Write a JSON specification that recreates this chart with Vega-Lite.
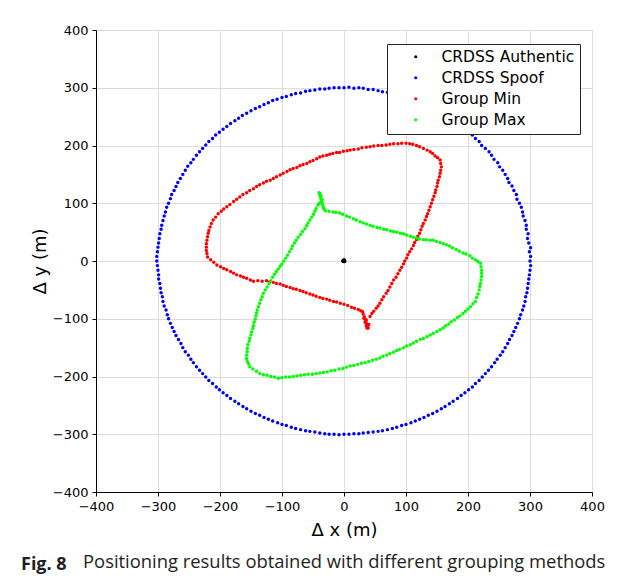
{
"$schema": "https://vega.github.io/schema/vega-lite/v6.json",
"autosize": {"type": "pad"},
"padding": {"left": 21, "top": 24, "right": 0, "bottom": 0},
"background": "white",
"title": {
 "text": "Fig. 8", "orient": "bottom", "anchor": "start", "frame": "group", "dx": -75, "offset": -15,
 "font": "Open Sans", "fontSize": 18, "fontWeight": "bold", "color": "#231f20"
},
"resolve": {"legend": {"color": "independent"}, "scale": {"color": "independent"}},
"vconcat": [{
"width": 496, "height": 462,
"title": {
 "text": "Positioning results obtained with different grouping methods",
 "orient": "bottom", "anchor": "start", "frame": "group", "dx": -13, "offset": 14,
 "font": "Open Sans", "fontSize": 18.4, "fontWeight": "normal", "color": "#231f20"
},
"data": {"values": [
{"g":"A","x":0,"y":0},{"g":"A","x":-1,"y":1},{"g":"A","x":1,"y":-1},{"g":"A","x":-1,"y":-1},{"g":"A","x":1,"y":1},{"g":"A","x":0,"y":2},{"g":"A","x":-2,"y":0},
{"g":"S","x":300,"y":0},{"g":"S","x":301,"y":8},{"g":"S","x":299,"y":16},{"g":"S","x":301,"y":23},{"g":"S","x":298,"y":31},{"g":"S","x":296,"y":39},{"g":"S","x":297,"y":47},{"g":"S","x":294,"y":55},{"g":"S","x":294,"y":62},{"g":"S","x":292,"y":70},{"g":"S","x":289,"y":78},{"g":"S","x":288,"y":85},{"g":"S","x":286,"y":93},{"g":"S","x":283,"y":100},{"g":"S","x":279,"y":107},{"g":"S","x":278,"y":115},{"g":"S","x":274,"y":122},{"g":"S","x":271,"y":130},{"g":"S","x":266,"y":136},{"g":"S","x":264,"y":143},{"g":"S","x":260,"y":150},{"g":"S","x":256,"y":157},{"g":"S","x":251,"y":163},{"g":"S","x":248,"y":170},{"g":"S","x":242,"y":176},{"g":"S","x":238,"y":183},{"g":"S","x":234,"y":189},{"g":"S","x":228,"y":195},{"g":"S","x":222,"y":200},{"g":"S","x":218,"y":207},{"g":"S","x":212,"y":212},{"g":"S","x":207,"y":218},{"g":"S","x":200,"y":222},{"g":"S","x":195,"y":229},{"g":"S","x":189,"y":233},{"g":"S","x":182,"y":238},{"g":"S","x":176,"y":243},{"g":"S","x":170,"y":248},{"g":"S","x":163,"y":251},{"g":"S","x":157,"y":256},{"g":"S","x":150,"y":260},{"g":"S","x":143,"y":264},{"g":"S","x":136,"y":267},{"g":"S","x":129,"y":271},{"g":"S","x":122,"y":275},{"g":"S","x":115,"y":277},{"g":"S","x":107,"y":280},{"g":"S","x":100,"y":283},{"g":"S","x":93,"y":286},{"g":"S","x":85,"y":288},{"g":"S","x":78,"y":290},{"g":"S","x":70,"y":292},{"g":"S","x":62,"y":293},{"g":"S","x":55,"y":295},{"g":"S","x":47,"y":297},{"g":"S","x":39,"y":297},{"g":"S","x":31,"y":299},{"g":"S","x":24,"y":300},{"g":"S","x":16,"y":299},{"g":"S","x":8,"y":301},
{"g":"S","x":0,"y":300},{"g":"S","x":-8,"y":300},{"g":"S","x":-16,"y":300},{"g":"S","x":-24,"y":299},{"g":"S","x":-31,"y":298},{"g":"S","x":-39,"y":298},{"g":"S","x":-47,"y":296},{"g":"S","x":-55,"y":295},{"g":"S","x":-62,"y":294},{"g":"S","x":-70,"y":291},{"g":"S","x":-78,"y":290},{"g":"S","x":-85,"y":288},{"g":"S","x":-93,"y":285},{"g":"S","x":-100,"y":283},{"g":"S","x":-108,"y":280},{"g":"S","x":-115,"y":278},{"g":"S","x":-122,"y":274},{"g":"S","x":-129,"y":271},{"g":"S","x":-136,"y":267},{"g":"S","x":-143,"y":264},{"g":"S","x":-150,"y":260},{"g":"S","x":-157,"y":256},{"g":"S","x":-164,"y":252},{"g":"S","x":-170,"y":247},{"g":"S","x":-176,"y":243},{"g":"S","x":-183,"y":238},{"g":"S","x":-189,"y":233},{"g":"S","x":-195,"y":228},{"g":"S","x":-201,"y":223},{"g":"S","x":-207,"y":218},{"g":"S","x":-212,"y":212},{"g":"S","x":-218,"y":207},{"g":"S","x":-223,"y":201},{"g":"S","x":-228,"y":195},{"g":"S","x":-233,"y":189},{"g":"S","x":-238,"y":183},{"g":"S","x":-243,"y":176},{"g":"S","x":-247,"y":170},{"g":"S","x":-252,"y":164},{"g":"S","x":-256,"y":157},{"g":"S","x":-260,"y":150},{"g":"S","x":-264,"y":143},{"g":"S","x":-268,"y":136},{"g":"S","x":-271,"y":129},{"g":"S","x":-274,"y":122},{"g":"S","x":-278,"y":115},{"g":"S","x":-280,"y":108},{"g":"S","x":-283,"y":100},{"g":"S","x":-286,"y":93},{"g":"S","x":-288,"y":85},{"g":"S","x":-290,"y":78},{"g":"S","x":-292,"y":70},{"g":"S","x":-294,"y":62},{"g":"S","x":-295,"y":55},{"g":"S","x":-297,"y":47},{"g":"S","x":-298,"y":39},{"g":"S","x":-299,"y":31},{"g":"S","x":-300,"y":24},{"g":"S","x":-301,"y":16},{"g":"S","x":-302,"y":8},
{"g":"S","x":-302,"y":0},{"g":"S","x":-301,"y":-8},{"g":"S","x":-300,"y":-16},{"g":"S","x":-299,"y":-24},{"g":"S","x":-299,"y":-31},{"g":"S","x":-297,"y":-39},{"g":"S","x":-296,"y":-47},{"g":"S","x":-295,"y":-55},{"g":"S","x":-293,"y":-62},{"g":"S","x":-292,"y":-70},{"g":"S","x":-290,"y":-78},{"g":"S","x":-287,"y":-85},{"g":"S","x":-285,"y":-93},{"g":"S","x":-283,"y":-100},{"g":"S","x":-280,"y":-108},{"g":"S","x":-277,"y":-115},{"g":"S","x":-274,"y":-122},{"g":"S","x":-271,"y":-129},{"g":"S","x":-267,"y":-136},{"g":"S","x":-263,"y":-143},{"g":"S","x":-260,"y":-150},{"g":"S","x":-256,"y":-157},{"g":"S","x":-251,"y":-163},{"g":"S","x":-247,"y":-170},{"g":"S","x":-243,"y":-176},{"g":"S","x":-238,"y":-183},{"g":"S","x":-233,"y":-189},{"g":"S","x":-228,"y":-195},{"g":"S","x":-223,"y":-201},{"g":"S","x":-218,"y":-207},{"g":"S","x":-212,"y":-212},{"g":"S","x":-206,"y":-218},{"g":"S","x":-201,"y":-223},{"g":"S","x":-195,"y":-228},{"g":"S","x":-189,"y":-233},{"g":"S","x":-183,"y":-238},{"g":"S","x":-176,"y":-243},{"g":"S","x":-170,"y":-247},{"g":"S","x":-163,"y":-252},{"g":"S","x":-157,"y":-256},{"g":"S","x":-150,"y":-260},{"g":"S","x":-143,"y":-264},{"g":"S","x":-136,"y":-267},{"g":"S","x":-129,"y":-271},{"g":"S","x":-122,"y":-274},{"g":"S","x":-115,"y":-277},{"g":"S","x":-107,"y":-280},{"g":"S","x":-100,"y":-283},{"g":"S","x":-93,"y":-285},{"g":"S","x":-85,"y":-288},{"g":"S","x":-78,"y":-290},{"g":"S","x":-70,"y":-292},{"g":"S","x":-62,"y":-294},{"g":"S","x":-55,"y":-295},{"g":"S","x":-47,"y":-296},{"g":"S","x":-39,"y":-298},{"g":"S","x":-31,"y":-299},{"g":"S","x":-24,"y":-300},{"g":"S","x":-16,"y":-300},{"g":"S","x":-8,"y":-301},
{"g":"S","x":0,"y":-300},{"g":"S","x":8,"y":-300},{"g":"S","x":16,"y":-299},{"g":"S","x":24,"y":-299},{"g":"S","x":31,"y":-298},{"g":"S","x":39,"y":-297},{"g":"S","x":47,"y":-296},{"g":"S","x":55,"y":-295},{"g":"S","x":62,"y":-294},{"g":"S","x":70,"y":-292},{"g":"S","x":78,"y":-290},{"g":"S","x":85,"y":-288},{"g":"S","x":93,"y":-285},{"g":"S","x":100,"y":-283},{"g":"S","x":108,"y":-280},{"g":"S","x":115,"y":-277},{"g":"S","x":122,"y":-274},{"g":"S","x":129,"y":-271},{"g":"S","x":136,"y":-267},{"g":"S","x":143,"y":-264},{"g":"S","x":150,"y":-260},{"g":"S","x":157,"y":-256},{"g":"S","x":163,"y":-252},{"g":"S","x":170,"y":-247},{"g":"S","x":176,"y":-243},{"g":"S","x":183,"y":-238},{"g":"S","x":189,"y":-233},{"g":"S","x":195,"y":-228},{"g":"S","x":201,"y":-223},{"g":"S","x":207,"y":-218},{"g":"S","x":212,"y":-212},{"g":"S","x":218,"y":-207},{"g":"S","x":223,"y":-201},{"g":"S","x":228,"y":-195},{"g":"S","x":233,"y":-189},{"g":"S","x":238,"y":-183},{"g":"S","x":243,"y":-176},{"g":"S","x":247,"y":-170},{"g":"S","x":252,"y":-163},{"g":"S","x":256,"y":-157},{"g":"S","x":260,"y":-150},{"g":"S","x":264,"y":-143},{"g":"S","x":267,"y":-136},{"g":"S","x":271,"y":-129},{"g":"S","x":274,"y":-122},{"g":"S","x":277,"y":-115},{"g":"S","x":280,"y":-108},{"g":"S","x":283,"y":-100},{"g":"S","x":285,"y":-93},{"g":"S","x":288,"y":-85},{"g":"S","x":290,"y":-78},{"g":"S","x":292,"y":-70},{"g":"S","x":293,"y":-62},{"g":"S","x":295,"y":-55},{"g":"S","x":296,"y":-47},{"g":"S","x":297,"y":-39},{"g":"S","x":298,"y":-31},{"g":"S","x":299,"y":-24},{"g":"S","x":300,"y":-16},{"g":"S","x":301,"y":-8},
{"g":"N","x":157,"y":163},{"g":"N","x":156,"y":169},{"g":"N","x":155,"y":175},{"g":"N","x":151,"y":179},{"g":"N","x":147,"y":182},{"g":"N","x":143,"y":186},{"g":"N","x":139,"y":189},{"g":"N","x":134,"y":192},{"g":"N","x":128,"y":195},{"g":"N","x":122,"y":198},{"g":"N","x":117,"y":200},{"g":"N","x":111,"y":202},{"g":"N","x":106,"y":203},{"g":"N","x":100,"y":204},{"g":"N","x":93,"y":204},{"g":"N","x":87,"y":203},{"g":"N","x":80,"y":203},{"g":"N","x":74,"y":202},{"g":"N","x":68,"y":201},{"g":"N","x":61,"y":200},{"g":"N","x":55,"y":200},{"g":"N","x":48,"y":199},{"g":"N","x":42,"y":198},{"g":"N","x":36,"y":197},{"g":"N","x":29,"y":196},{"g":"N","x":23,"y":194},{"g":"N","x":16,"y":193},{"g":"N","x":10,"y":192},{"g":"N","x":5,"y":191},{"g":"N","x":-1,"y":190},{"g":"N","x":-7,"y":188},{"g":"N","x":-12,"y":188},{"g":"N","x":-18,"y":186},{"g":"N","x":-23,"y":185},{"g":"N","x":-28,"y":183},{"g":"N","x":-34,"y":182},{"g":"N","x":-39,"y":180},{"g":"N","x":-44,"y":177},{"g":"N","x":-50,"y":174},{"g":"N","x":-55,"y":172},{"g":"N","x":-60,"y":169},{"g":"N","x":-66,"y":167},{"g":"N","x":-71,"y":165},{"g":"N","x":-76,"y":162},{"g":"N","x":-82,"y":160},{"g":"N","x":-87,"y":158},{"g":"N","x":-92,"y":155},{"g":"N","x":-98,"y":152},{"g":"N","x":-103,"y":149},{"g":"N","x":-109,"y":146},{"g":"N","x":-114,"y":143},{"g":"N","x":-119,"y":140},{"g":"N","x":-125,"y":138},{"g":"N","x":-130,"y":135},{"g":"N","x":-136,"y":132},{"g":"N","x":-141,"y":129},{"g":"N","x":-146,"y":125},{"g":"N","x":-152,"y":122},{"g":"N","x":-157,"y":118},{"g":"N","x":-163,"y":115},{"g":"N","x":-168,"y":111},{"g":"N","x":-173,"y":107},{"g":"N","x":-178,"y":103},{"g":"N","x":-184,"y":98},{"g":"N","x":-189,"y":94},{"g":"N","x":-194,"y":90},{"g":"N","x":-198,"y":86},{"g":"N","x":-203,"y":82},{"g":"N","x":-207,"y":76},{"g":"N","x":-211,"y":71},{"g":"N","x":-214,"y":65},{"g":"N","x":-216,"y":59},{"g":"N","x":-218,"y":53},{"g":"N","x":-219,"y":48},{"g":"N","x":-220,"y":42},{"g":"N","x":-221,"y":36},{"g":"N","x":-222,"y":30},{"g":"N","x":-222,"y":24},{"g":"N","x":-222,"y":18},{"g":"N","x":-221,"y":13},{"g":"N","x":-220,"y":7},{"g":"N","x":-215,"y":2},{"g":"N","x":-210,"y":-2},{"g":"N","x":-205,"y":-7},{"g":"N","x":-199,"y":-10},{"g":"N","x":-194,"y":-13},{"g":"N","x":-189,"y":-15},{"g":"N","x":-183,"y":-18},{"g":"N","x":-178,"y":-21},{"g":"N","x":-173,"y":-24},{"g":"N","x":-167,"y":-26},{"g":"N","x":-162,"y":-28},{"g":"N","x":-157,"y":-30},{"g":"N","x":-151,"y":-33},{"g":"N","x":-146,"y":-35},{"g":"N","x":-139,"y":-34},{"g":"N","x":-132,"y":-35},{"g":"N","x":-125,"y":-34},{"g":"N","x":-120,"y":-36},{"g":"N","x":-114,"y":-37},{"g":"N","x":-109,"y":-39},{"g":"N","x":-103,"y":-40},{"g":"N","x":-98,"y":-42},{"g":"N","x":-93,"y":-44},{"g":"N","x":-87,"y":-46},{"g":"N","x":-82,"y":-48},{"g":"N","x":-77,"y":-49},{"g":"N","x":-71,"y":-51},{"g":"N","x":-66,"y":-53},{"g":"N","x":-61,"y":-55},{"g":"N","x":-55,"y":-57},{"g":"N","x":-50,"y":-59},{"g":"N","x":-45,"y":-61},{"g":"N","x":-39,"y":-63},{"g":"N","x":-34,"y":-65},{"g":"N","x":-28,"y":-66},{"g":"N","x":-23,"y":-68},{"g":"N","x":-17,"y":-70},{"g":"N","x":-12,"y":-71},{"g":"N","x":-6,"y":-73},{"g":"N","x":0,"y":-75},{"g":"N","x":6,"y":-77},{"g":"N","x":12,"y":-80},{"g":"N","x":17,"y":-82},{"g":"N","x":23,"y":-84},{"g":"N","x":27,"y":-86},{"g":"N","x":30,"y":-88},{"g":"N","x":31,"y":-92},{"g":"N","x":33,"y":-97},{"g":"N","x":34,"y":-101},{"g":"N","x":35,"y":-105},{"g":"N","x":36,"y":-108},{"g":"N","x":37,"y":-111},{"g":"N","x":38,"y":-114},{"g":"N","x":39,"y":-116},{"g":"N","x":37,"y":-116},{"g":"N","x":36,"y":-112},{"g":"N","x":34,"y":-106},{"g":"N","x":32,"y":-99},{"g":"N","x":36,"y":-102},{"g":"N","x":40,"y":-110},{"g":"N","x":42,"y":-96},{"g":"N","x":45,"y":-91},{"g":"N","x":48,"y":-87},{"g":"N","x":52,"y":-82},{"g":"N","x":55,"y":-78},{"g":"N","x":58,"y":-73},{"g":"N","x":61,"y":-67},{"g":"N","x":64,"y":-62},{"g":"N","x":68,"y":-56},{"g":"N","x":71,"y":-51},{"g":"N","x":74,"y":-45},{"g":"N","x":77,"y":-39},{"g":"N","x":80,"y":-33},{"g":"N","x":84,"y":-28},{"g":"N","x":87,"y":-22},{"g":"N","x":90,"y":-16},{"g":"N","x":93,"y":-11},{"g":"N","x":96,"y":-5},{"g":"N","x":98,"y":0},{"g":"N","x":101,"y":5},{"g":"N","x":103,"y":11},{"g":"N","x":106,"y":16},{"g":"N","x":109,"y":21},{"g":"N","x":112,"y":27},{"g":"N","x":114,"y":32},{"g":"N","x":117,"y":37},{"g":"N","x":119,"y":43},{"g":"N","x":122,"y":48},{"g":"N","x":124,"y":54},{"g":"N","x":126,"y":60},{"g":"N","x":128,"y":65},{"g":"N","x":131,"y":71},{"g":"N","x":133,"y":77},{"g":"N","x":135,"y":82},{"g":"N","x":137,"y":88},{"g":"N","x":139,"y":94},{"g":"N","x":141,"y":100},{"g":"N","x":143,"y":106},{"g":"N","x":145,"y":112},{"g":"N","x":147,"y":118},{"g":"N","x":148,"y":123},{"g":"N","x":150,"y":129},{"g":"N","x":151,"y":135},{"g":"N","x":152,"y":140},{"g":"N","x":154,"y":146},{"g":"N","x":155,"y":152},{"g":"N","x":156,"y":157},
{"g":"X","x":-40,"y":118},{"g":"X","x":-39,"y":115},{"g":"X","x":-38,"y":111},{"g":"X","x":-37,"y":107},{"g":"X","x":-36,"y":103},{"g":"X","x":-35,"y":99},{"g":"X","x":-34,"y":95},{"g":"X","x":-33,"y":92},{"g":"X","x":-39,"y":117},{"g":"X","x":-37,"y":113},{"g":"X","x":-35,"y":106},{"g":"X","x":-32,"y":90},{"g":"X","x":-30,"y":87},{"g":"X","x":-24,"y":86},{"g":"X","x":-18,"y":85},{"g":"X","x":-13,"y":84},{"g":"X","x":-7,"y":83},{"g":"X","x":-2,"y":81},{"g":"X","x":4,"y":78},{"g":"X","x":9,"y":76},{"g":"X","x":15,"y":73},{"g":"X","x":20,"y":71},{"g":"X","x":26,"y":68},{"g":"X","x":31,"y":66},{"g":"X","x":36,"y":64},{"g":"X","x":42,"y":62},{"g":"X","x":47,"y":60},{"g":"X","x":53,"y":58},{"g":"X","x":58,"y":57},{"g":"X","x":64,"y":55},{"g":"X","x":69,"y":54},{"g":"X","x":75,"y":52},{"g":"X","x":80,"y":51},{"g":"X","x":85,"y":50},{"g":"X","x":91,"y":48},{"g":"X","x":96,"y":47},{"g":"X","x":101,"y":45},{"g":"X","x":107,"y":43},{"g":"X","x":112,"y":41},{"g":"X","x":117,"y":40},{"g":"X","x":122,"y":38},{"g":"X","x":128,"y":37},{"g":"X","x":133,"y":37},{"g":"X","x":139,"y":36},{"g":"X","x":144,"y":36},{"g":"X","x":149,"y":34},{"g":"X","x":155,"y":32},{"g":"X","x":160,"y":30},{"g":"X","x":165,"y":28},{"g":"X","x":170,"y":26},{"g":"X","x":175,"y":23},{"g":"X","x":181,"y":20},{"g":"X","x":186,"y":17},{"g":"X","x":192,"y":14},{"g":"X","x":197,"y":12},{"g":"X","x":203,"y":9},{"g":"X","x":207,"y":5},{"g":"X","x":212,"y":2},{"g":"X","x":216,"y":-1},{"g":"X","x":220,"y":-4},{"g":"X","x":221,"y":-10},{"g":"X","x":222,"y":-16},{"g":"X","x":222,"y":-21},{"g":"X","x":222,"y":-27},{"g":"X","x":221,"y":-33},{"g":"X","x":220,"y":-39},{"g":"X","x":219,"y":-44},{"g":"X","x":218,"y":-50},{"g":"X","x":216,"y":-57},{"g":"X","x":214,"y":-63},{"g":"X","x":212,"y":-70},{"g":"X","x":208,"y":-74},{"g":"X","x":204,"y":-79},{"g":"X","x":200,"y":-83},{"g":"X","x":196,"y":-87},{"g":"X","x":192,"y":-91},{"g":"X","x":187,"y":-95},{"g":"X","x":183,"y":-98},{"g":"X","x":178,"y":-102},{"g":"X","x":173,"y":-105},{"g":"X","x":169,"y":-109},{"g":"X","x":164,"y":-112},{"g":"X","x":160,"y":-116},{"g":"X","x":155,"y":-119},{"g":"X","x":150,"y":-122},{"g":"X","x":144,"y":-125},{"g":"X","x":139,"y":-128},{"g":"X","x":134,"y":-131},{"g":"X","x":128,"y":-134},{"g":"X","x":123,"y":-136},{"g":"X","x":117,"y":-139},{"g":"X","x":112,"y":-142},{"g":"X","x":107,"y":-145},{"g":"X","x":101,"y":-147},{"g":"X","x":96,"y":-150},{"g":"X","x":90,"y":-153},{"g":"X","x":85,"y":-155},{"g":"X","x":80,"y":-158},{"g":"X","x":74,"y":-160},{"g":"X","x":69,"y":-163},{"g":"X","x":63,"y":-165},{"g":"X","x":58,"y":-168},{"g":"X","x":52,"y":-170},{"g":"X","x":46,"y":-172},{"g":"X","x":40,"y":-174},{"g":"X","x":34,"y":-176},{"g":"X","x":28,"y":-177},{"g":"X","x":22,"y":-179},{"g":"X","x":16,"y":-181},{"g":"X","x":10,"y":-182},{"g":"X","x":4,"y":-184},{"g":"X","x":-2,"y":-186},{"g":"X","x":-8,"y":-187},{"g":"X","x":-15,"y":-189},{"g":"X","x":-21,"y":-190},{"g":"X","x":-27,"y":-192},{"g":"X","x":-33,"y":-193},{"g":"X","x":-39,"y":-194},{"g":"X","x":-45,"y":-195},{"g":"X","x":-51,"y":-196},{"g":"X","x":-58,"y":-196},{"g":"X","x":-64,"y":-197},{"g":"X","x":-70,"y":-198},{"g":"X","x":-76,"y":-199},{"g":"X","x":-82,"y":-200},{"g":"X","x":-88,"y":-201},{"g":"X","x":-94,"y":-201},{"g":"X","x":-100,"y":-202},{"g":"X","x":-106,"y":-203},{"g":"X","x":-112,"y":-201},{"g":"X","x":-118,"y":-200},{"g":"X","x":-124,"y":-198},{"g":"X","x":-130,"y":-197},{"g":"X","x":-136,"y":-195},{"g":"X","x":-141,"y":-191},{"g":"X","x":-147,"y":-187},{"g":"X","x":-152,"y":-183},{"g":"X","x":-154,"y":-178},{"g":"X","x":-156,"y":-174},{"g":"X","x":-157,"y":-169},{"g":"X","x":-157,"y":-163},{"g":"X","x":-156,"y":-157},{"g":"X","x":-156,"y":-151},{"g":"X","x":-155,"y":-145},{"g":"X","x":-153,"y":-139},{"g":"X","x":-152,"y":-134},{"g":"X","x":-150,"y":-128},{"g":"X","x":-149,"y":-123},{"g":"X","x":-147,"y":-117},{"g":"X","x":-146,"y":-112},{"g":"X","x":-145,"y":-106},{"g":"X","x":-143,"y":-101},{"g":"X","x":-142,"y":-95},{"g":"X","x":-141,"y":-90},{"g":"X","x":-140,"y":-85},{"g":"X","x":-138,"y":-79},{"g":"X","x":-136,"y":-73},{"g":"X","x":-134,"y":-67},{"g":"X","x":-132,"y":-62},{"g":"X","x":-130,"y":-56},{"g":"X","x":-127,"y":-50},{"g":"X","x":-124,"y":-45},{"g":"X","x":-121,"y":-39},{"g":"X","x":-118,"y":-34},{"g":"X","x":-115,"y":-28},{"g":"X","x":-112,"y":-23},{"g":"X","x":-109,"y":-18},{"g":"X","x":-106,"y":-14},{"g":"X","x":-103,"y":-9},{"g":"X","x":-100,"y":-5},{"g":"X","x":-97,"y":0},{"g":"X","x":-94,"y":5},{"g":"X","x":-91,"y":10},{"g":"X","x":-88,"y":16},{"g":"X","x":-85,"y":21},{"g":"X","x":-83,"y":26},{"g":"X","x":-80,"y":31},{"g":"X","x":-77,"y":36},{"g":"X","x":-74,"y":41},{"g":"X","x":-70,"y":46},{"g":"X","x":-67,"y":51},{"g":"X","x":-63,"y":56},{"g":"X","x":-60,"y":61},{"g":"X","x":-58,"y":66},{"g":"X","x":-55,"y":71},{"g":"X","x":-52,"y":76},{"g":"X","x":-49,"y":81},{"g":"X","x":-47,"y":86},{"g":"X","x":-45,"y":91},{"g":"X","x":-42,"y":97},{"g":"X","x":-40,"y":100}
]},
"mark": {"type": "point", "filled": true, "size": 12, "opacity": 1, "shape": "circle"},
"encoding": {
 "x": {"field": "x", "type": "quantitative",
  "scale": {"domain": [-400, 400], "nice": false, "zero": false},
  "axis": {"values": [-400,-300,-200,-100,0,100,200,300,400], "title": "Δ x (m)", "tickSize": 4, "labelPadding": 4, "titlePadding": 8}},
 "y": {"field": "y", "type": "quantitative",
  "scale": {"domain": [-400, 400], "nice": false, "zero": false},
  "axis": {"values": [-400,-300,-200,-100,0,100,200,300,400], "title": "Δ y (m)", "tickSize": 4, "labelPadding": 4, "titlePadding": 3}},
 "color": {"field": "g", "type": "nominal",
  "scale": {"domain": ["A","S","N","X"], "range": ["#000000","#0000ff","#ff0000","#00ff00"]},
  "legend": {"title": null, "orient": "none", "legendX": 291, "legendY": 14,
   "labelExpr": "datum.label == 'A' ? 'CRDSS Authentic' : datum.label == 'S' ? 'CRDSS Spoof' : datum.label == 'N' ? 'Group Min' : 'Group Max'",
   "padding": 5, "rowPadding": 4, "symbolOffset": 16, "labelOffset": 18, "symbolSize": 10, "symbolType": "circle",
   "labelFont": "DejaVu Sans", "labelFontSize": 15.5, "labelColor": "#000000",
   "strokeColor": "#262626", "fillColor": "#ffffff"}}
}
}],
"config": {
 "view": {"stroke": null},
 "axis": {"grid": true, "gridColor": "#dcdcdc", "gridWidth": 1, "domainColor": "#000000", "domainWidth": 1, "tickColor": "#000000",
  "labelFont": "DejaVu Sans", "labelFontSize": 13, "labelColor": "#000000", "labelFlush": false,
  "titleFont": "DejaVu Sans", "titleFontSize": 18, "titleFontWeight": "normal", "titleColor": "#000000"}
}
}
